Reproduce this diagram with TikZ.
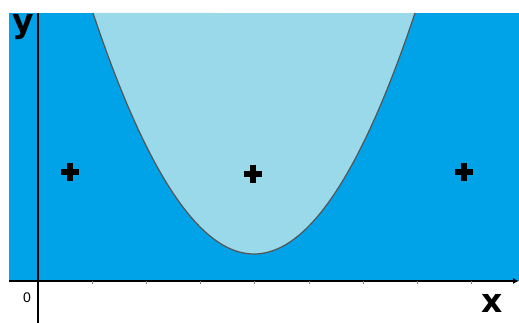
\documentclass[tikz,border=0pt]{standalone}
\usepackage{fontspec}
\newfontfamily\labelfont{DejaVu Sans}
\newfontfamily\zerofont{Liberation Sans}
\usetikzlibrary{arrows.meta, calc}
\definecolor{PaintTurquoise}{RGB}{0,162,232}
\definecolor{PaintLightTurquoise}{RGB}{153,217,234}
\definecolor{CurveGrey}{RGB}{85,85,85}

\begin{document}
\begin{tikzpicture}[x=1pt, y=-1pt]

        % Constants (pixel units, y grows downward)
        \def\xLeft{9}     % left edge of the shaded plane
        \def\xRight{519}  % right edge / arrow tip
        \def\yTop{13}     % top edge of the shaded plane
        \def\xAxisPos{281} % height of the x axis
        \def\yAxisPos{38}  % position of the y axis
        \def\vx{254}      % vertex of the parabola
        \def\vy{254}
        \def\halfw{161}   % half width of the parabola at the top

        \useasboundingbox (0,0) rectangle (519,323);

        % Plane (outside region)
        \fill[PaintTurquoise] (\xLeft,\yTop) rectangle (\xRight,\xAxisPos);

        % Inside of the parabola
        \fill[PaintLightTurquoise]
            plot [domain=\vx-\halfw:\vx+\halfw, samples=90] (\x, {\vy-(\vy-\yTop)*((\x-\vx)/\halfw)^2});
        \draw[CurveGrey, line width=1.2pt]
            plot [domain=\vx-\halfw:\vx+\halfw, samples=90] (\x, {\vy-(\vy-\yTop)*((\x-\vx)/\halfw)^2});

        % Axes
        \coordinate (O) at (\yAxisPos,\xAxisPos);
        \coordinate (Ytop) at (\yAxisPos,\yTop);
        \coordinate (Ybot) at (\yAxisPos,323);
        \coordinate (Xleft) at (\xLeft,\xAxisPos);
        \coordinate (Xright) at (\xRight,\xAxisPos);
        \draw[line width=1.4pt] (Ytop) -- (Ybot);
        \draw[line width=1.4pt, -{Latex[length=6pt,width=6pt]}] (Xleft) -- (Xright);

        % Ticks along x
        \foreach \t in {1,...,8} {
            \draw[gray, line width=0.7pt] ($(O)+(54.2*\t,0)$) -- ++(0,3);
        }

        % Sign marks
        \foreach \px/\py in {70/172, 253/174, 464/172} {
            \draw[line width=5.5pt] (\px-9,\py) -- (\px+9,\py) (\px,\py-9) -- (\px,\py+9);
        }

        % Labels
        \node[anchor=base, inner sep=0pt, font=\labelfont\bfseries\fontsize{33}{33}\selectfont] (ylabel) at (23,33) {y};
        \node[anchor=base, inner sep=0pt, font=\labelfont\bfseries\fontsize{33}{33}\selectfont] (xlabel) at (492.5,312) {x};
        \node[anchor=base, inner sep=0pt, font=\zerofont\fontsize{14}{14}\selectfont] (zero) at (27,302) {0};

\end{tikzpicture}
\end{document}
